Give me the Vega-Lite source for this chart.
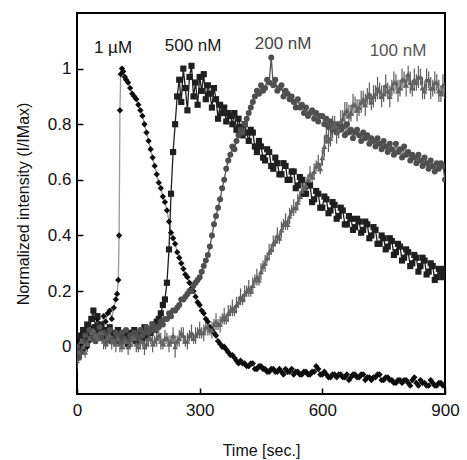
{
  "$schema": "https://vega.github.io/schema/vega-lite/v6.json",
  "autosize": "none",
  "width": 368,
  "height": 381,
  "padding": {"left": 77, "top": 13, "right": 22, "bottom": 66},
  "background": "white",
  "config": {
    "view": {"stroke": "#000", "strokeWidth": 2},
    "font": "Liberation Sans",
    "axis": {
      "domain": false,
      "grid": false,
      "ticks": true,
      "tickSize": -6,
      "tickWidth": 1.5,
      "tickColor": "#000",
      "labelFont": "Liberation Sans",
      "labelFontSize": 17,
      "labelColor": "#111",
      "labelFlush": false,
      "titleFont": "Liberation Sans",
      "titleFontSize": 16,
      "titleFontWeight": "normal",
      "titleColor": "#111"
    }
  },
  "datasets": {
    "series": [
      {"s":"1 µM","t":0,"v":0.02},{"s":"1 µM","t":5,"v":-0.03},{"s":"1 µM","t":10,"v":0.01},{"s":"1 µM","t":15,"v":-0.01},{"s":"1 µM","t":20,"v":0.03},{"s":"1 µM","t":25,"v":0.0},{"s":"1 µM","t":30,"v":0.02},{"s":"1 µM","t":35,"v":0.05},{"s":"1 µM","t":40,"v":0.07},{"s":"1 µM","t":45,"v":0.05},{"s":"1 µM","t":50,"v":0.1},{"s":"1 µM","t":55,"v":0.08},{"s":"1 µM","t":60,"v":0.06},{"s":"1 µM","t":65,"v":0.11},{"s":"1 µM","t":70,"v":0.09},{"s":"1 µM","t":75,"v":0.12},{"s":"1 µM","t":80,"v":0.13},{"s":"1 µM","t":85,"v":0.1},{"s":"1 µM","t":90,"v":0.14},{"s":"1 µM","t":95,"v":0.17},{"s":"1 µM","t":98,"v":0.19},{"s":"1 µM","t":101,"v":0.24},{"s":"1 µM","t":103,"v":0.4},{"s":"1 µM","t":105,"v":0.85},{"s":"1 µM","t":107,"v":0.98},{"s":"1 µM","t":110,"v":1.0},{"s":"1 µM","t":113,"v":0.99},{"s":"1 µM","t":117,"v":0.97},{"s":"1 µM","t":120,"v":0.96},{"s":"1 µM","t":125,"v":0.95},{"s":"1 µM","t":130,"v":0.93},{"s":"1 µM","t":135,"v":0.91},{"s":"1 µM","t":140,"v":0.9},{"s":"1 µM","t":145,"v":0.89},{"s":"1 µM","t":150,"v":0.87},{"s":"1 µM","t":155,"v":0.85},{"s":"1 µM","t":160,"v":0.83},{"s":"1 µM","t":165,"v":0.8},{"s":"1 µM","t":170,"v":0.77},{"s":"1 µM","t":175,"v":0.74},{"s":"1 µM","t":180,"v":0.71},{"s":"1 µM","t":185,"v":0.68},{"s":"1 µM","t":190,"v":0.65},{"s":"1 µM","t":195,"v":0.62},{"s":"1 µM","t":200,"v":0.59},{"s":"1 µM","t":205,"v":0.57},{"s":"1 µM","t":210,"v":0.54},{"s":"1 µM","t":215,"v":0.52},{"s":"1 µM","t":220,"v":0.49},{"s":"1 µM","t":225,"v":0.45},{"s":"1 µM","t":230,"v":0.41},{"s":"1 µM","t":235,"v":0.39},{"s":"1 µM","t":240,"v":0.37},{"s":"1 µM","t":245,"v":0.34},{"s":"1 µM","t":250,"v":0.32},{"s":"1 µM","t":255,"v":0.3},{"s":"1 µM","t":260,"v":0.28},{"s":"1 µM","t":265,"v":0.26},{"s":"1 µM","t":270,"v":0.25},{"s":"1 µM","t":275,"v":0.23},{"s":"1 µM","t":280,"v":0.21},{"s":"1 µM","t":285,"v":0.2},{"s":"1 µM","t":290,"v":0.18},{"s":"1 µM","t":295,"v":0.16},{"s":"1 µM","t":300,"v":0.15},{"s":"1 µM","t":305,"v":0.13},{"s":"1 µM","t":310,"v":0.12},{"s":"1 µM","t":315,"v":0.1},{"s":"1 µM","t":320,"v":0.09},{"s":"1 µM","t":325,"v":0.07},{"s":"1 µM","t":330,"v":0.06},{"s":"1 µM","t":335,"v":0.05},{"s":"1 µM","t":340,"v":0.04},{"s":"1 µM","t":345,"v":0.02},{"s":"1 µM","t":350,"v":0.01},{"s":"1 µM","t":355,"v":0.0},{"s":"1 µM","t":360,"v":0.0},{"s":"1 µM","t":365,"v":-0.01},{"s":"1 µM","t":370,"v":-0.02},{"s":"1 µM","t":375,"v":-0.03},{"s":"1 µM","t":380,"v":-0.03},{"s":"1 µM","t":385,"v":-0.04},{"s":"1 µM","t":390,"v":-0.05},{"s":"1 µM","t":395,"v":-0.06},{"s":"1 µM","t":400,"v":-0.05},{"s":"1 µM","t":405,"v":-0.06},{"s":"1 µM","t":410,"v":-0.06},{"s":"1 µM","t":415,"v":-0.07},{"s":"1 µM","t":420,"v":-0.07},{"s":"1 µM","t":425,"v":-0.06},{"s":"1 µM","t":430,"v":-0.06},{"s":"1 µM","t":435,"v":-0.08},{"s":"1 µM","t":440,"v":-0.08},{"s":"1 µM","t":445,"v":-0.07},{"s":"1 µM","t":450,"v":-0.07},{"s":"1 µM","t":455,"v":-0.08},{"s":"1 µM","t":460,"v":-0.08},{"s":"1 µM","t":465,"v":-0.09},{"s":"1 µM","t":470,"v":-0.09},{"s":"1 µM","t":475,"v":-0.08},{"s":"1 µM","t":480,"v":-0.08},{"s":"1 µM","t":485,"v":-0.09},{"s":"1 µM","t":490,"v":-0.09},{"s":"1 µM","t":495,"v":-0.08},{"s":"1 µM","t":500,"v":-0.09},{"s":"1 µM","t":505,"v":-0.1},{"s":"1 µM","t":510,"v":-0.08},{"s":"1 µM","t":515,"v":-0.09},{"s":"1 µM","t":520,"v":-0.09},{"s":"1 µM","t":525,"v":-0.08},{"s":"1 µM","t":530,"v":-0.1},{"s":"1 µM","t":535,"v":-0.09},{"s":"1 µM","t":540,"v":-0.09},{"s":"1 µM","t":545,"v":-0.1},{"s":"1 µM","t":550,"v":-0.1},{"s":"1 µM","t":555,"v":-0.09},{"s":"1 µM","t":560,"v":-0.09},{"s":"1 µM","t":565,"v":-0.1},{"s":"1 µM","t":570,"v":-0.1},{"s":"1 µM","t":575,"v":-0.09},{"s":"1 µM","t":580,"v":-0.09},{"s":"1 µM","t":585,"v":-0.07},{"s":"1 µM","t":590,"v":-0.08},{"s":"1 µM","t":595,"v":-0.1},{"s":"1 µM","t":600,"v":-0.1},{"s":"1 µM","t":605,"v":-0.09},{"s":"1 µM","t":610,"v":-0.1},{"s":"1 µM","t":615,"v":-0.11},{"s":"1 µM","t":620,"v":-0.11},{"s":"1 µM","t":625,"v":-0.1},{"s":"1 µM","t":630,"v":-0.1},{"s":"1 µM","t":635,"v":-0.11},{"s":"1 µM","t":640,"v":-0.1},{"s":"1 µM","t":645,"v":-0.1},{"s":"1 µM","t":650,"v":-0.11},{"s":"1 µM","t":655,"v":-0.11},{"s":"1 µM","t":660,"v":-0.1},{"s":"1 µM","t":665,"v":-0.12},{"s":"1 µM","t":670,"v":-0.11},{"s":"1 µM","t":675,"v":-0.1},{"s":"1 µM","t":680,"v":-0.1},{"s":"1 µM","t":685,"v":-0.11},{"s":"1 µM","t":690,"v":-0.11},{"s":"1 µM","t":695,"v":-0.1},{"s":"1 µM","t":700,"v":-0.1},{"s":"1 µM","t":705,"v":-0.12},{"s":"1 µM","t":710,"v":-0.11},{"s":"1 µM","t":715,"v":-0.11},{"s":"1 µM","t":720,"v":-0.12},{"s":"1 µM","t":725,"v":-0.11},{"s":"1 µM","t":730,"v":-0.11},{"s":"1 µM","t":735,"v":-0.1},{"s":"1 µM","t":740,"v":-0.1},{"s":"1 µM","t":745,"v":-0.12},{"s":"1 µM","t":750,"v":-0.12},{"s":"1 µM","t":755,"v":-0.11},{"s":"1 µM","t":760,"v":-0.11},{"s":"1 µM","t":765,"v":-0.12},{"s":"1 µM","t":770,"v":-0.12},{"s":"1 µM","t":775,"v":-0.13},{"s":"1 µM","t":780,"v":-0.13},{"s":"1 µM","t":785,"v":-0.12},{"s":"1 µM","t":790,"v":-0.12},{"s":"1 µM","t":795,"v":-0.13},{"s":"1 µM","t":800,"v":-0.12},{"s":"1 µM","t":805,"v":-0.12},{"s":"1 µM","t":810,"v":-0.13},{"s":"1 µM","t":815,"v":-0.14},{"s":"1 µM","t":820,"v":-0.12},{"s":"1 µM","t":825,"v":-0.11},{"s":"1 µM","t":830,"v":-0.13},{"s":"1 µM","t":835,"v":-0.14},{"s":"1 µM","t":840,"v":-0.12},{"s":"1 µM","t":845,"v":-0.13},{"s":"1 µM","t":850,"v":-0.13},{"s":"1 µM","t":855,"v":-0.14},{"s":"1 µM","t":860,"v":-0.14},{"s":"1 µM","t":865,"v":-0.12},{"s":"1 µM","t":870,"v":-0.13},{"s":"1 µM","t":875,"v":-0.14},{"s":"1 µM","t":880,"v":-0.14},{"s":"1 µM","t":885,"v":-0.13},{"s":"1 µM","t":890,"v":-0.13},{"s":"1 µM","t":895,"v":-0.14},{"s":"1 µM","t":900,"v":-0.14},

      {"s":"500 nM","t":0,"v":0.0},{"s":"500 nM","t":5,"v":0.04},{"s":"500 nM","t":10,"v":-0.01},{"s":"500 nM","t":15,"v":0.06},{"s":"500 nM","t":20,"v":0.03},{"s":"500 nM","t":25,"v":0.08},{"s":"500 nM","t":30,"v":0.05},{"s":"500 nM","t":35,"v":0.1},{"s":"500 nM","t":40,"v":0.13},{"s":"500 nM","t":45,"v":0.07},{"s":"500 nM","t":50,"v":0.11},{"s":"500 nM","t":55,"v":0.05},{"s":"500 nM","t":60,"v":0.08},{"s":"500 nM","t":65,"v":0.04},{"s":"500 nM","t":70,"v":0.06},{"s":"500 nM","t":75,"v":0.03},{"s":"500 nM","t":80,"v":0.07},{"s":"500 nM","t":85,"v":0.02},{"s":"500 nM","t":90,"v":0.05},{"s":"500 nM","t":95,"v":0.04},
      {"s":"500 nM","t":100,"v":0.06},{"s":"500 nM","t":105,"v":0.02},{"s":"500 nM","t":110,"v":0.05},{"s":"500 nM","t":115,"v":0.03},{"s":"500 nM","t":120,"v":0.04},{"s":"500 nM","t":125,"v":0.01},{"s":"500 nM","t":130,"v":0.05},{"s":"500 nM","t":135,"v":0.03},{"s":"500 nM","t":140,"v":0.06},{"s":"500 nM","t":145,"v":0.02},{"s":"500 nM","t":150,"v":0.04},{"s":"500 nM","t":155,"v":0.05},{"s":"500 nM","t":160,"v":0.03},{"s":"500 nM","t":165,"v":0.07},{"s":"500 nM","t":170,"v":0.04},{"s":"500 nM","t":175,"v":0.06},{"s":"500 nM","t":180,"v":0.05},{"s":"500 nM","t":185,"v":0.08},{"s":"500 nM","t":190,"v":0.06},{"s":"500 nM","t":195,"v":0.09},
      {"s":"500 nM","t":200,"v":0.1},{"s":"500 nM","t":205,"v":0.12},{"s":"500 nM","t":210,"v":0.15},{"s":"500 nM","t":215,"v":0.17},{"s":"500 nM","t":220,"v":0.23},{"s":"500 nM","t":225,"v":0.35},{"s":"500 nM","t":230,"v":0.55},{"s":"500 nM","t":235,"v":0.7},{"s":"500 nM","t":240,"v":0.8},{"s":"500 nM","t":245,"v":0.9},{"s":"500 nM","t":250,"v":0.96},{"s":"500 nM","t":255,"v":0.88},{"s":"500 nM","t":260,"v":1.0},{"s":"500 nM","t":265,"v":0.93},{"s":"500 nM","t":270,"v":0.85},{"s":"500 nM","t":275,"v":0.97},{"s":"500 nM","t":280,"v":1.01},{"s":"500 nM","t":285,"v":0.9},{"s":"500 nM","t":290,"v":0.95},{"s":"500 nM","t":295,"v":0.87},
      {"s":"500 nM","t":300,"v":0.97},{"s":"500 nM","t":305,"v":0.92},{"s":"500 nM","t":310,"v":0.98},{"s":"500 nM","t":315,"v":0.89},{"s":"500 nM","t":320,"v":0.94},{"s":"500 nM","t":325,"v":0.91},{"s":"500 nM","t":330,"v":0.86},{"s":"500 nM","t":335,"v":0.93},{"s":"500 nM","t":340,"v":0.89},{"s":"500 nM","t":345,"v":0.82},{"s":"500 nM","t":350,"v":0.87},{"s":"500 nM","t":355,"v":0.84},{"s":"500 nM","t":360,"v":0.86},{"s":"500 nM","t":365,"v":0.81},{"s":"500 nM","t":370,"v":0.84},{"s":"500 nM","t":375,"v":0.83},{"s":"500 nM","t":380,"v":0.8},{"s":"500 nM","t":385,"v":0.84},{"s":"500 nM","t":390,"v":0.78},{"s":"500 nM","t":395,"v":0.82},
      {"s":"500 nM","t":400,"v":0.79},{"s":"500 nM","t":405,"v":0.76},{"s":"500 nM","t":410,"v":0.8},{"s":"500 nM","t":415,"v":0.77},{"s":"500 nM","t":420,"v":0.74},{"s":"500 nM","t":425,"v":0.78},{"s":"500 nM","t":430,"v":0.77},{"s":"500 nM","t":435,"v":0.72},{"s":"500 nM","t":440,"v":0.7},{"s":"500 nM","t":445,"v":0.74},{"s":"500 nM","t":450,"v":0.72},{"s":"500 nM","t":455,"v":0.68},{"s":"500 nM","t":460,"v":0.67},{"s":"500 nM","t":465,"v":0.71},{"s":"500 nM","t":470,"v":0.7},{"s":"500 nM","t":475,"v":0.65},{"s":"500 nM","t":480,"v":0.64},{"s":"500 nM","t":485,"v":0.68},{"s":"500 nM","t":490,"v":0.66},{"s":"500 nM","t":495,"v":0.62},
      {"s":"500 nM","t":500,"v":0.62},{"s":"500 nM","t":505,"v":0.66},{"s":"500 nM","t":510,"v":0.65},{"s":"500 nM","t":515,"v":0.6},{"s":"500 nM","t":520,"v":0.6},{"s":"500 nM","t":525,"v":0.63},{"s":"500 nM","t":530,"v":0.63},{"s":"500 nM","t":535,"v":0.57},{"s":"500 nM","t":540,"v":0.58},{"s":"500 nM","t":545,"v":0.61},{"s":"500 nM","t":550,"v":0.6},{"s":"500 nM","t":555,"v":0.55},{"s":"500 nM","t":560,"v":0.55},{"s":"500 nM","t":565,"v":0.58},{"s":"500 nM","t":570,"v":0.58},{"s":"500 nM","t":575,"v":0.52},{"s":"500 nM","t":580,"v":0.53},{"s":"500 nM","t":585,"v":0.56},{"s":"500 nM","t":590,"v":0.55},{"s":"500 nM","t":595,"v":0.5},
      {"s":"500 nM","t":600,"v":0.5},{"s":"500 nM","t":605,"v":0.54},{"s":"500 nM","t":610,"v":0.53},{"s":"500 nM","t":615,"v":0.48},{"s":"500 nM","t":620,"v":0.49},{"s":"500 nM","t":625,"v":0.52},{"s":"500 nM","t":630,"v":0.51},{"s":"500 nM","t":635,"v":0.46},{"s":"500 nM","t":640,"v":0.47},{"s":"500 nM","t":645,"v":0.5},{"s":"500 nM","t":650,"v":0.49},{"s":"500 nM","t":655,"v":0.44},{"s":"500 nM","t":660,"v":0.44},{"s":"500 nM","t":665,"v":0.47},{"s":"500 nM","t":670,"v":0.46},{"s":"500 nM","t":675,"v":0.42},{"s":"500 nM","t":680,"v":0.43},{"s":"500 nM","t":685,"v":0.46},{"s":"500 nM","t":690,"v":0.45},{"s":"500 nM","t":695,"v":0.41},
      {"s":"500 nM","t":700,"v":0.42},{"s":"500 nM","t":705,"v":0.45},{"s":"500 nM","t":710,"v":0.44},{"s":"500 nM","t":715,"v":0.39},{"s":"500 nM","t":720,"v":0.4},{"s":"500 nM","t":725,"v":0.43},{"s":"500 nM","t":730,"v":0.42},{"s":"500 nM","t":735,"v":0.37},{"s":"500 nM","t":740,"v":0.37},{"s":"500 nM","t":745,"v":0.4},{"s":"500 nM","t":750,"v":0.39},{"s":"500 nM","t":755,"v":0.35},{"s":"500 nM","t":760,"v":0.36},{"s":"500 nM","t":765,"v":0.39},{"s":"500 nM","t":770,"v":0.38},{"s":"500 nM","t":775,"v":0.33},{"s":"500 nM","t":780,"v":0.34},{"s":"500 nM","t":785,"v":0.37},{"s":"500 nM","t":790,"v":0.36},{"s":"500 nM","t":795,"v":0.31},
      {"s":"500 nM","t":800,"v":0.32},{"s":"500 nM","t":805,"v":0.35},{"s":"500 nM","t":810,"v":0.34},{"s":"500 nM","t":815,"v":0.29},{"s":"500 nM","t":820,"v":0.3},{"s":"500 nM","t":825,"v":0.33},{"s":"500 nM","t":830,"v":0.32},{"s":"500 nM","t":835,"v":0.27},{"s":"500 nM","t":840,"v":0.29},{"s":"500 nM","t":845,"v":0.32},{"s":"500 nM","t":850,"v":0.31},{"s":"500 nM","t":855,"v":0.26},{"s":"500 nM","t":860,"v":0.27},{"s":"500 nM","t":865,"v":0.3},{"s":"500 nM","t":870,"v":0.29},{"s":"500 nM","t":875,"v":0.24},{"s":"500 nM","t":880,"v":0.25},{"s":"500 nM","t":885,"v":0.28},{"s":"500 nM","t":890,"v":0.27},{"s":"500 nM","t":895,"v":0.25},{"s":"500 nM","t":900,"v":0.28},

      {"s":"200 nM","t":0,"v":0.0},{"s":"200 nM","t":5,"v":-0.04},{"s":"200 nM","t":10,"v":-0.02},{"s":"200 nM","t":15,"v":0.02},{"s":"200 nM","t":20,"v":0.04},{"s":"200 nM","t":25,"v":0.01},{"s":"200 nM","t":30,"v":0.06},{"s":"200 nM","t":35,"v":0.03},{"s":"200 nM","t":40,"v":0.05},{"s":"200 nM","t":45,"v":0.02},{"s":"200 nM","t":50,"v":0.04},{"s":"200 nM","t":55,"v":0.07},{"s":"200 nM","t":60,"v":0.03},{"s":"200 nM","t":65,"v":0.05},{"s":"200 nM","t":70,"v":0.02},{"s":"200 nM","t":75,"v":0.04},{"s":"200 nM","t":80,"v":0.06},{"s":"200 nM","t":85,"v":0.03},{"s":"200 nM","t":90,"v":0.02},{"s":"200 nM","t":95,"v":0.05},
      {"s":"200 nM","t":100,"v":0.04},{"s":"200 nM","t":105,"v":0.02},{"s":"200 nM","t":110,"v":0.05},{"s":"200 nM","t":115,"v":0.03},{"s":"200 nM","t":120,"v":0.06},{"s":"200 nM","t":125,"v":0.02},{"s":"200 nM","t":130,"v":0.04},{"s":"200 nM","t":135,"v":0.03},{"s":"200 nM","t":140,"v":0.05},{"s":"200 nM","t":145,"v":0.04},{"s":"200 nM","t":150,"v":0.03},{"s":"200 nM","t":155,"v":0.06},{"s":"200 nM","t":160,"v":0.04},{"s":"200 nM","t":165,"v":0.05},{"s":"200 nM","t":170,"v":0.07},{"s":"200 nM","t":175,"v":0.05},{"s":"200 nM","t":180,"v":0.06},{"s":"200 nM","t":185,"v":0.08},{"s":"200 nM","t":190,"v":0.06},{"s":"200 nM","t":195,"v":0.07},
      {"s":"200 nM","t":200,"v":0.07},{"s":"200 nM","t":205,"v":0.09},{"s":"200 nM","t":210,"v":0.08},{"s":"200 nM","t":215,"v":0.1},{"s":"200 nM","t":220,"v":0.1},{"s":"200 nM","t":225,"v":0.12},{"s":"200 nM","t":230,"v":0.11},{"s":"200 nM","t":235,"v":0.13},{"s":"200 nM","t":240,"v":0.13},{"s":"200 nM","t":245,"v":0.14},{"s":"200 nM","t":250,"v":0.15},{"s":"200 nM","t":255,"v":0.17},{"s":"200 nM","t":260,"v":0.17},{"s":"200 nM","t":265,"v":0.18},{"s":"200 nM","t":270,"v":0.19},{"s":"200 nM","t":275,"v":0.2},{"s":"200 nM","t":280,"v":0.2},{"s":"200 nM","t":285,"v":0.22},{"s":"200 nM","t":290,"v":0.23},{"s":"200 nM","t":295,"v":0.24},
      {"s":"200 nM","t":300,"v":0.25},{"s":"200 nM","t":305,"v":0.27},{"s":"200 nM","t":310,"v":0.29},{"s":"200 nM","t":315,"v":0.31},{"s":"200 nM","t":320,"v":0.33},{"s":"200 nM","t":325,"v":0.36},{"s":"200 nM","t":330,"v":0.4},{"s":"200 nM","t":335,"v":0.44},{"s":"200 nM","t":340,"v":0.47},{"s":"200 nM","t":345,"v":0.5},{"s":"200 nM","t":350,"v":0.53},{"s":"200 nM","t":355,"v":0.57},{"s":"200 nM","t":360,"v":0.6},{"s":"200 nM","t":365,"v":0.64},{"s":"200 nM","t":370,"v":0.67},{"s":"200 nM","t":375,"v":0.69},{"s":"200 nM","t":380,"v":0.72},{"s":"200 nM","t":385,"v":0.71},{"s":"200 nM","t":390,"v":0.74},{"s":"200 nM","t":395,"v":0.76},
      {"s":"200 nM","t":400,"v":0.78},{"s":"200 nM","t":405,"v":0.77},{"s":"200 nM","t":410,"v":0.8},{"s":"200 nM","t":415,"v":0.82},{"s":"200 nM","t":420,"v":0.84},{"s":"200 nM","t":425,"v":0.86},{"s":"200 nM","t":430,"v":0.88},{"s":"200 nM","t":435,"v":0.9},{"s":"200 nM","t":440,"v":0.92},{"s":"200 nM","t":445,"v":0.91},{"s":"200 nM","t":450,"v":0.94},{"s":"200 nM","t":455,"v":0.92},{"s":"200 nM","t":460,"v":0.93},{"s":"200 nM","t":465,"v":0.96},{"s":"200 nM","t":470,"v":0.95},{"s":"200 nM","t":475,"v":1.04},{"s":"200 nM","t":480,"v":0.94},{"s":"200 nM","t":485,"v":0.96},{"s":"200 nM","t":490,"v":0.92},{"s":"200 nM","t":495,"v":0.93},
      {"s":"200 nM","t":500,"v":0.94},{"s":"200 nM","t":505,"v":0.9},{"s":"200 nM","t":510,"v":0.92},{"s":"200 nM","t":515,"v":0.91},{"s":"200 nM","t":520,"v":0.89},{"s":"200 nM","t":525,"v":0.9},{"s":"200 nM","t":530,"v":0.88},{"s":"200 nM","t":535,"v":0.86},{"s":"200 nM","t":540,"v":0.89},{"s":"200 nM","t":545,"v":0.86},{"s":"200 nM","t":550,"v":0.87},{"s":"200 nM","t":555,"v":0.84},{"s":"200 nM","t":560,"v":0.86},{"s":"200 nM","t":565,"v":0.83},{"s":"200 nM","t":570,"v":0.84},{"s":"200 nM","t":575,"v":0.85},{"s":"200 nM","t":580,"v":0.82},{"s":"200 nM","t":585,"v":0.84},{"s":"200 nM","t":590,"v":0.81},{"s":"200 nM","t":595,"v":0.83},
      {"s":"200 nM","t":600,"v":0.83},{"s":"200 nM","t":605,"v":0.8},{"s":"200 nM","t":610,"v":0.82},{"s":"200 nM","t":615,"v":0.79},{"s":"200 nM","t":620,"v":0.81},{"s":"200 nM","t":625,"v":0.78},{"s":"200 nM","t":630,"v":0.8},{"s":"200 nM","t":635,"v":0.77},{"s":"200 nM","t":640,"v":0.8},{"s":"200 nM","t":645,"v":0.78},{"s":"200 nM","t":650,"v":0.79},{"s":"200 nM","t":655,"v":0.76},{"s":"200 nM","t":660,"v":0.8},{"s":"200 nM","t":665,"v":0.77},{"s":"200 nM","t":670,"v":0.78},{"s":"200 nM","t":675,"v":0.75},{"s":"200 nM","t":680,"v":0.77},{"s":"200 nM","t":685,"v":0.78},{"s":"200 nM","t":690,"v":0.76},{"s":"200 nM","t":695,"v":0.74},
      {"s":"200 nM","t":700,"v":0.77},{"s":"200 nM","t":705,"v":0.75},{"s":"200 nM","t":710,"v":0.76},{"s":"200 nM","t":715,"v":0.73},{"s":"200 nM","t":720,"v":0.75},{"s":"200 nM","t":725,"v":0.74},{"s":"200 nM","t":730,"v":0.72},{"s":"200 nM","t":735,"v":0.75},{"s":"200 nM","t":740,"v":0.73},{"s":"200 nM","t":745,"v":0.71},{"s":"200 nM","t":750,"v":0.74},{"s":"200 nM","t":755,"v":0.72},{"s":"200 nM","t":760,"v":0.7},{"s":"200 nM","t":765,"v":0.73},{"s":"200 nM","t":770,"v":0.71},{"s":"200 nM","t":775,"v":0.69},{"s":"200 nM","t":780,"v":0.73},{"s":"200 nM","t":785,"v":0.7},{"s":"200 nM","t":790,"v":0.71},{"s":"200 nM","t":795,"v":0.68},
      {"s":"200 nM","t":800,"v":0.72},{"s":"200 nM","t":805,"v":0.69},{"s":"200 nM","t":810,"v":0.7},{"s":"200 nM","t":815,"v":0.67},{"s":"200 nM","t":820,"v":0.69},{"s":"200 nM","t":825,"v":0.68},{"s":"200 nM","t":830,"v":0.66},{"s":"200 nM","t":835,"v":0.69},{"s":"200 nM","t":840,"v":0.67},{"s":"200 nM","t":845,"v":0.65},{"s":"200 nM","t":850,"v":0.68},{"s":"200 nM","t":855,"v":0.66},{"s":"200 nM","t":860,"v":0.64},{"s":"200 nM","t":865,"v":0.67},{"s":"200 nM","t":870,"v":0.65},{"s":"200 nM","t":875,"v":0.63},{"s":"200 nM","t":880,"v":0.66},{"s":"200 nM","t":885,"v":0.64},{"s":"200 nM","t":890,"v":0.66},{"s":"200 nM","t":895,"v":0.65},{"s":"200 nM","t":900,"v":0.6},

      {"s":"100 nM","t":0,"v":-0.05,"e":0.03},{"s":"100 nM","t":5,"v":-0.02,"e":0.03},{"s":"100 nM","t":10,"v":0.02,"e":0.02},{"s":"100 nM","t":15,"v":0.0,"e":0.03},{"s":"100 nM","t":20,"v":-0.02,"e":0.02},{"s":"100 nM","t":25,"v":0.01,"e":0.03},{"s":"100 nM","t":30,"v":0.03,"e":0.02},{"s":"100 nM","t":35,"v":0.05,"e":0.03},{"s":"100 nM","t":40,"v":0.06,"e":0.02},{"s":"100 nM","t":45,"v":0.04,"e":0.03},{"s":"100 nM","t":50,"v":0.03,"e":0.02},{"s":"100 nM","t":55,"v":0.05,"e":0.03},{"s":"100 nM","t":60,"v":0.05,"e":0.02},{"s":"100 nM","t":65,"v":0.02,"e":0.03},{"s":"100 nM","t":70,"v":0.01,"e":0.02},{"s":"100 nM","t":75,"v":0.03,"e":0.03},{"s":"100 nM","t":80,"v":0.04,"e":0.02},{"s":"100 nM","t":85,"v":0.02,"e":0.03},{"s":"100 nM","t":90,"v":0.02,"e":0.02},{"s":"100 nM","t":95,"v":0.01,"e":0.03},
      {"s":"100 nM","t":100,"v":0.03,"e":0.02},{"s":"100 nM","t":105,"v":0.01,"e":0.03},{"s":"100 nM","t":110,"v":0.0,"e":0.02},{"s":"100 nM","t":115,"v":0.02,"e":0.03},{"s":"100 nM","t":120,"v":0.02,"e":0.02},{"s":"100 nM","t":125,"v":0.0,"e":0.03},{"s":"100 nM","t":130,"v":0.01,"e":0.02},{"s":"100 nM","t":135,"v":0.03,"e":0.03},{"s":"100 nM","t":140,"v":0.03,"e":0.02},{"s":"100 nM","t":145,"v":0.01,"e":0.03},{"s":"100 nM","t":150,"v":0.0,"e":0.02},{"s":"100 nM","t":155,"v":0.02,"e":0.03},{"s":"100 nM","t":160,"v":0.02,"e":0.02},{"s":"100 nM","t":165,"v":0.0,"e":0.03},{"s":"100 nM","t":170,"v":0.01,"e":0.02},{"s":"100 nM","t":175,"v":0.03,"e":0.03},{"s":"100 nM","t":180,"v":0.03,"e":0.02},{"s":"100 nM","t":185,"v":0.01,"e":0.03},{"s":"100 nM","t":190,"v":0.02,"e":0.02},{"s":"100 nM","t":195,"v":0.03,"e":0.03},
      {"s":"100 nM","t":200,"v":0.04,"e":0.02},{"s":"100 nM","t":205,"v":0.02,"e":0.03},{"s":"100 nM","t":210,"v":0.01,"e":0.02},{"s":"100 nM","t":215,"v":0.03,"e":0.03},{"s":"100 nM","t":220,"v":0.03,"e":0.02},{"s":"100 nM","t":225,"v":0.01,"e":0.03},{"s":"100 nM","t":230,"v":0.02,"e":0.02},{"s":"100 nM","t":235,"v":0.04,"e":0.03},{"s":"100 nM","t":240,"v":0.0,"e":0.04},{"s":"100 nM","t":245,"v":0.02,"e":0.02},{"s":"100 nM","t":250,"v":0.03,"e":0.03},{"s":"100 nM","t":255,"v":0.05,"e":0.02},{"s":"100 nM","t":260,"v":0.04,"e":0.03},{"s":"100 nM","t":265,"v":0.02,"e":0.02},{"s":"100 nM","t":270,"v":0.02,"e":0.03},{"s":"100 nM","t":275,"v":0.04,"e":0.02},{"s":"100 nM","t":280,"v":0.05,"e":0.03},{"s":"100 nM","t":285,"v":0.03,"e":0.02},{"s":"100 nM","t":290,"v":0.04,"e":0.03},{"s":"100 nM","t":295,"v":0.05,"e":0.02},
      {"s":"100 nM","t":300,"v":0.06,"e":0.03},{"s":"100 nM","t":305,"v":0.05,"e":0.02},{"s":"100 nM","t":310,"v":0.05,"e":0.03},{"s":"100 nM","t":315,"v":0.07,"e":0.02},{"s":"100 nM","t":320,"v":0.07,"e":0.03},{"s":"100 nM","t":325,"v":0.06,"e":0.02},{"s":"100 nM","t":330,"v":0.06,"e":0.03},{"s":"100 nM","t":335,"v":0.08,"e":0.02},{"s":"100 nM","t":340,"v":0.09,"e":0.03},{"s":"100 nM","t":345,"v":0.08,"e":0.02},{"s":"100 nM","t":350,"v":0.08,"e":0.03},{"s":"100 nM","t":355,"v":0.1,"e":0.02},{"s":"100 nM","t":360,"v":0.11,"e":0.03},{"s":"100 nM","t":365,"v":0.1,"e":0.02},{"s":"100 nM","t":370,"v":0.12,"e":0.03},{"s":"100 nM","t":375,"v":0.13,"e":0.02},{"s":"100 nM","t":380,"v":0.14,"e":0.03},{"s":"100 nM","t":385,"v":0.13,"e":0.02},{"s":"100 nM","t":390,"v":0.15,"e":0.03},{"s":"100 nM","t":395,"v":0.16,"e":0.02},
      {"s":"100 nM","t":400,"v":0.18,"e":0.03},{"s":"100 nM","t":405,"v":0.17,"e":0.02},{"s":"100 nM","t":410,"v":0.19,"e":0.03},{"s":"100 nM","t":415,"v":0.2,"e":0.02},{"s":"100 nM","t":420,"v":0.21,"e":0.03},{"s":"100 nM","t":425,"v":0.2,"e":0.02},{"s":"100 nM","t":430,"v":0.22,"e":0.03},{"s":"100 nM","t":435,"v":0.24,"e":0.02},{"s":"100 nM","t":440,"v":0.25,"e":0.03},{"s":"100 nM","t":445,"v":0.24,"e":0.02},{"s":"100 nM","t":450,"v":0.27,"e":0.03},{"s":"100 nM","t":455,"v":0.29,"e":0.02},{"s":"100 nM","t":460,"v":0.3,"e":0.03},{"s":"100 nM","t":465,"v":0.32,"e":0.02},{"s":"100 nM","t":470,"v":0.34,"e":0.03},{"s":"100 nM","t":475,"v":0.35,"e":0.02},{"s":"100 nM","t":480,"v":0.37,"e":0.03},{"s":"100 nM","t":485,"v":0.38,"e":0.02},{"s":"100 nM","t":490,"v":0.4,"e":0.03},{"s":"100 nM","t":495,"v":0.39,"e":0.02},
      {"s":"100 nM","t":500,"v":0.42,"e":0.03},{"s":"100 nM","t":505,"v":0.44,"e":0.02},{"s":"100 nM","t":510,"v":0.45,"e":0.03},{"s":"100 nM","t":515,"v":0.44,"e":0.02},{"s":"100 nM","t":520,"v":0.47,"e":0.03},{"s":"100 nM","t":525,"v":0.49,"e":0.02},{"s":"100 nM","t":530,"v":0.5,"e":0.03},{"s":"100 nM","t":535,"v":0.5,"e":0.02},{"s":"100 nM","t":540,"v":0.52,"e":0.03},{"s":"100 nM","t":545,"v":0.54,"e":0.02},{"s":"100 nM","t":550,"v":0.56,"e":0.03},{"s":"100 nM","t":555,"v":0.57,"e":0.02},{"s":"100 nM","t":560,"v":0.58,"e":0.03},{"s":"100 nM","t":565,"v":0.6,"e":0.02},{"s":"100 nM","t":570,"v":0.62,"e":0.03},{"s":"100 nM","t":575,"v":0.61,"e":0.02},{"s":"100 nM","t":580,"v":0.63,"e":0.03},{"s":"100 nM","t":585,"v":0.65,"e":0.02},{"s":"100 nM","t":590,"v":0.66,"e":0.03},{"s":"100 nM","t":595,"v":0.64,"e":0.02},
      {"s":"100 nM","t":600,"v":0.68,"e":0.03},{"s":"100 nM","t":605,"v":0.72,"e":0.04},{"s":"100 nM","t":610,"v":0.76,"e":0.03},{"s":"100 nM","t":615,"v":0.74,"e":0.04},{"s":"100 nM","t":620,"v":0.75,"e":0.03},{"s":"100 nM","t":625,"v":0.79,"e":0.04},{"s":"100 nM","t":630,"v":0.8,"e":0.03},{"s":"100 nM","t":635,"v":0.77,"e":0.04},{"s":"100 nM","t":640,"v":0.78,"e":0.03},{"s":"100 nM","t":645,"v":0.81,"e":0.04},{"s":"100 nM","t":650,"v":0.82,"e":0.03},{"s":"100 nM","t":655,"v":0.84,"e":0.04},{"s":"100 nM","t":660,"v":0.85,"e":0.03},{"s":"100 nM","t":665,"v":0.83,"e":0.04},{"s":"100 nM","t":670,"v":0.84,"e":0.03},{"s":"100 nM","t":675,"v":0.87,"e":0.04},{"s":"100 nM","t":680,"v":0.87,"e":0.03},{"s":"100 nM","t":685,"v":0.85,"e":0.04},{"s":"100 nM","t":690,"v":0.86,"e":0.03},{"s":"100 nM","t":695,"v":0.88,"e":0.04},
      {"s":"100 nM","t":700,"v":0.89,"e":0.03},{"s":"100 nM","t":705,"v":0.87,"e":0.04},{"s":"100 nM","t":710,"v":0.9,"e":0.03},{"s":"100 nM","t":715,"v":0.91,"e":0.04},{"s":"100 nM","t":720,"v":0.88,"e":0.03},{"s":"100 nM","t":725,"v":0.9,"e":0.04},{"s":"100 nM","t":730,"v":0.91,"e":0.03},{"s":"100 nM","t":735,"v":0.93,"e":0.04},{"s":"100 nM","t":740,"v":0.92,"e":0.03},{"s":"100 nM","t":745,"v":0.9,"e":0.04},{"s":"100 nM","t":750,"v":0.91,"e":0.03},{"s":"100 nM","t":755,"v":0.94,"e":0.04},{"s":"100 nM","t":760,"v":0.92,"e":0.03},{"s":"100 nM","t":765,"v":0.9,"e":0.04},{"s":"100 nM","t":770,"v":0.93,"e":0.03},{"s":"100 nM","t":775,"v":0.95,"e":0.04},{"s":"100 nM","t":780,"v":0.95,"e":0.03},{"s":"100 nM","t":785,"v":0.92,"e":0.04},{"s":"100 nM","t":790,"v":0.93,"e":0.03},{"s":"100 nM","t":795,"v":0.96,"e":0.04},
      {"s":"100 nM","t":800,"v":0.96,"e":0.03},{"s":"100 nM","t":805,"v":0.94,"e":0.04},{"s":"100 nM","t":810,"v":0.98,"e":0.03},{"s":"100 nM","t":815,"v":0.95,"e":0.04},{"s":"100 nM","t":820,"v":0.93,"e":0.03},{"s":"100 nM","t":825,"v":0.96,"e":0.04},{"s":"100 nM","t":830,"v":0.95,"e":0.03},{"s":"100 nM","t":835,"v":0.97,"e":0.04},{"s":"100 nM","t":840,"v":0.97,"e":0.03},{"s":"100 nM","t":845,"v":0.93,"e":0.04},{"s":"100 nM","t":850,"v":0.92,"e":0.03},{"s":"100 nM","t":855,"v":0.96,"e":0.04},{"s":"100 nM","t":860,"v":0.96,"e":0.03},{"s":"100 nM","t":865,"v":0.93,"e":0.04},{"s":"100 nM","t":870,"v":0.93,"e":0.03},{"s":"100 nM","t":875,"v":0.95,"e":0.04},{"s":"100 nM","t":880,"v":0.95,"e":0.03},{"s":"100 nM","t":885,"v":0.92,"e":0.04},{"s":"100 nM","t":890,"v":0.91,"e":0.03},{"s":"100 nM","t":895,"v":0.94,"e":0.04},{"s":"100 nM","t":900,"v":0.92,"e":0.03}
    ],
    "labels": [
      {"s":"1 µM","t":88,"v":1.075},
      {"s":"500 nM","t":284,"v":1.08},
      {"s":"200 nM","t":504,"v":1.09},
      {"s":"100 nM","t":785,"v":1.065}
    ]
  },
  "layer": [
    {
      "data": {"name": "series"},
      "mark": {"type": "line", "strokeWidth": 1.3, "clip": true},
      "encoding": {
        "x": {"field": "t", "type": "quantitative", "title": "Time [sec.]", "scale": {"domain": [0, 900], "nice": false, "zero": false},
              "axis": {"values": [0, 300, 600, 900], "labelPadding": 14, "titlePadding": 24}},
        "y": {"field": "v", "type": "quantitative", "title": "Normalized intensity (I/IMax)", "scale": {"domain": [-0.17, 1.2], "nice": false, "zero": false},
              "axis": {"values": [0, 0.2, 0.4, 0.6, 0.8, 1], "format": "~g", "labelPadding": 12, "titlePadding": 16}},
        "color": {"field": "s", "type": "nominal", "legend": null,
                  "scale": {"domain": ["1 µM", "500 nM", "200 nM", "100 nM"], "range": ["#999999", "#1f1f1f", "#555555", "#6a6a6a"]}},
        "order": {"field": "t"}
      }
    },
    {
      "data": {"name": "series"},
      "transform": [{"filter": "datum.s === '100 nM'"}],
      "mark": {"type": "errorbar", "color": "#5e5e5e", "thickness": 1.2, "clip": true},
      "encoding": {
        "x": {"field": "t", "type": "quantitative", "title": "Time [sec.]"},
        "y": {"field": "v", "type": "quantitative", "title": "Normalized intensity (I/IMax)"},
        "yError": {"field": "e"}
      }
    },
    {
      "data": {"name": "series"},
      "mark": {"type": "point", "filled": true, "opacity": 1, "clip": true},
      "encoding": {
        "x": {"field": "t", "type": "quantitative", "title": "Time [sec.]"},
        "y": {"field": "v", "type": "quantitative", "title": "Normalized intensity (I/IMax)"},
        "shape": {"field": "s", "type": "nominal", "legend": null,
                  "scale": {"domain": ["1 µM", "500 nM", "200 nM", "100 nM"], "range": ["diamond", "square", "circle", "triangle-up"]}},
        "size": {"field": "s", "type": "nominal", "legend": null,
                 "scale": {"domain": ["1 µM", "500 nM", "200 nM", "100 nM"], "range": [40, 34, 30, 16]}},
        "color": {"field": "s", "type": "nominal", "legend": null,
                  "scale": {"domain": ["1 µM", "500 nM", "200 nM", "100 nM"], "range": ["#0d0d0d", "#1f1f1f", "#4f4f4f", "#626262"]}}
      }
    },
    {
      "data": {"name": "labels"},
      "mark": {"type": "text", "fontSize": 17, "font": "Liberation Sans", "align": "center", "baseline": "middle"},
      "encoding": {
        "x": {"field": "t", "type": "quantitative", "title": "Time [sec.]"},
        "y": {"field": "v", "type": "quantitative", "title": "Normalized intensity (I/IMax)"},
        "text": {"field": "s"},
        "color": {"field": "s", "type": "nominal", "legend": null,
                  "scale": {"domain": ["1 µM", "500 nM", "200 nM", "100 nM"], "range": ["#111111", "#1a1a1a", "#444444", "#555555"]}}
      }
    }
  ],
  "resolve": {"scale": {"color": "independent"}}
}
